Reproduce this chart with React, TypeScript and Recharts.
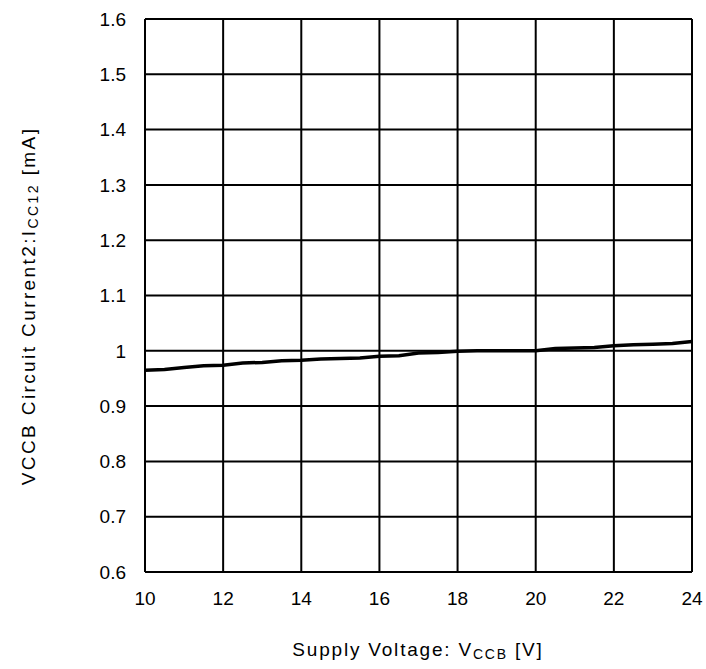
import React from 'react';
import { LineChart, Line, XAxis, YAxis, CartesianGrid, Label } from 'recharts';

const voltage = [10, 10.5, 11, 11.5, 12, 12.5, 13, 13.5, 14, 14.5, 15, 15.5, 16, 16.5, 17, 17.5, 18, 18.5, 19, 19.5, 20, 20.5, 21, 21.5, 22, 22.5, 23, 23.5, 24];
const current = [0.965, 0.966, 0.970, 0.973, 0.974, 0.978, 0.979, 0.982, 0.983, 0.985, 0.986, 0.987, 0.990, 0.991, 0.996, 0.997, 0.999, 1.0, 1.0, 1.0, 1.0, 1.004, 1.005, 1.006, 1.009, 1.011, 1.012, 1.013, 1.017];

const xTicks = [10, 12, 14, 16, 18, 20, 22, 24];
const yTicks = [0.6, 0.7, 0.8, 0.9, 1.0, 1.1, 1.2, 1.3, 1.4, 1.5, 1.6];

const data = voltage.map((v, i) => ({ v, icc: current[i] }));

const FONT = '"Liberation Sans", Arial, sans-serif';

const formatY = (val: number) => (val === 1 ? '1' : val.toFixed(1));

const XTitle = () => (
    <text x={418} y={656} textAnchor="middle" fontFamily={FONT} fontSize={19} letterSpacing={1.8} fill="#000">
        Supply Voltage: V
        <tspan fontSize={14} dy={3}>CCB</tspan>
        <tspan dy={-3}> [V]</tspan>
    </text>
);

const YTitle = () => (
    <text x={0} y={0} transform="translate(35, 306) rotate(-90)" textAnchor="middle" fontFamily={FONT} fontSize={19} letterSpacing={2.4} fill="#000">
        VCCB Circuit Current2:I
        <tspan fontSize={14} dy={3}>CC12</tspan>
        <tspan dy={-3}> [mA]</tspan>
    </text>
);

export default function App() {
    return (
        <div style={{ position: 'absolute', left: 0, top: 0, background: '#fff' }}>
            <LineChart width={706} height={669} data={data} margin={{ top: 19, right: 14, left: 0, bottom: 0 }}>
                <CartesianGrid stroke="#000" strokeWidth={2} horizontal vertical />
                <XAxis
                    dataKey="v"
                    type="number"
                    domain={[10, 24]}
                    ticks={xTicks}
                    height={97}
                    axisLine={false}
                    tickLine={false}
                    tickSize={0}
                    tickMargin={20}
                    tick={{ fill: '#000', fontSize: 19, fontFamily: FONT }}
                >
                    <Label content={<XTitle />} />
                </XAxis>
                <YAxis
                    type="number"
                    domain={[0.6, 1.6]}
                    ticks={yTicks}
                    width={145}
                    axisLine={false}
                    tickLine={false}
                    tickSize={0}
                    tickMargin={19}
                    tickFormatter={formatY}
                    tick={{ fill: '#000', fontSize: 19, fontFamily: FONT }}
                >
                    <Label content={<YTitle />} />
                </YAxis>
                <Line type="linear" dataKey="icc" stroke="#000" strokeWidth={3.5} dot={false} isAnimationActive={false} />
            </LineChart>
        </div>
    );
}
